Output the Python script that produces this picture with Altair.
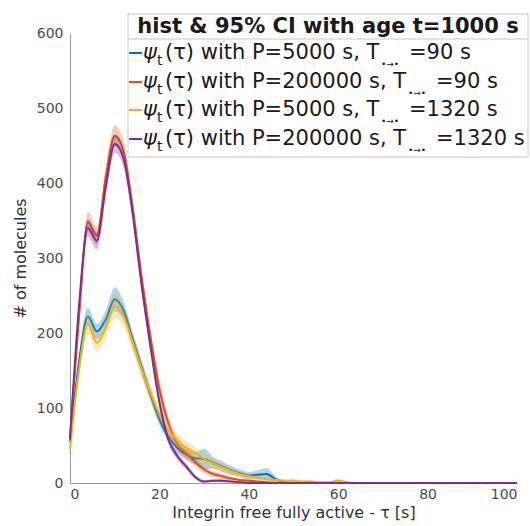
import altair as alt
import pandas as pd

tau = [0, 2, 4, 6, 8, 10, 12, 14, 16, 18, 20, 22, 24, 26, 28, 30, 32, 34, 36, 38, 40,
       42, 44, 46, 48, 50, 52, 54, 56, 58, 60, 62, 64, 70, 80, 90, 100]

blue = [55, 160, 222, 202, 218, 245, 230, 192, 155, 118, 85, 62, 47, 38, 33, 32, 27, 22, 17, 13, 10,
        11, 12, 5, 1, 0, 0, 0, 0, 0, 0, 0, 0, 0, 0, 0, 0]
blue_ci = [8, 10, 12, 10, 12, 16, 12, 10, 10, 9, 8, 7, 7, 7, 8, 14, 8, 7, 6, 5, 5,
           6, 8, 4, 1, 0, 0, 0, 0, 0, 0, 0, 0, 0, 0, 0, 0]

red = [62, 220, 348, 330, 408, 463, 442, 368, 275, 195, 125, 80, 52, 40, 28, 18, 12, 9, 6, 4, 3,
       2, 1, 0, 0, 0, 0, 0, 0, 0, 0, 0, 0, 0, 0, 0, 0]
red_ci = [8, 12, 14, 12, 14, 14, 14, 12, 12, 10, 14, 10, 8, 7, 6, 5, 4, 4, 3, 2, 2,
          1, 1, 0, 0, 0, 0, 0, 0, 0, 0, 0, 0, 0, 0, 0, 0]

yellow = [45, 150, 212, 187, 207, 236, 222, 188, 152, 120, 92, 70, 57, 47, 40, 32, 26, 21, 16, 12, 9,
          7, 5, 4, 3, 3, 2, 2, 1, 1, 3, 1, 0, 0, 0, 0, 0]
yellow_ci = [8, 10, 14, 12, 14, 16, 14, 12, 11, 10, 9, 9, 9, 9, 8, 8, 7, 6, 5, 4, 4,
             3, 3, 3, 2, 3, 2, 2, 1, 1, 3, 1, 0, 0, 0, 0, 0]

purple = [58, 235, 340, 323, 395, 452, 432, 360, 265, 182, 108, 58, 36, 22, 8, 2, 3, 3, 2, 1, 0,
          0, 0, 0, 0, 0, 0, 0, 0, 0, 0, 0, 0, 0, 0, 0, 0]
purple_ci = [6, 10, 12, 12, 12, 12, 12, 10, 10, 8, 8, 6, 5, 4, 3, 2, 2, 2, 1, 1, 0,
             0, 0, 0, 0, 0, 0, 0, 0, 0, 0, 0, 0, 0, 0, 0, 0]

series_colors = ["#0072BD", "#D95319", "#EDB120", "#7E2F8E"]
legend_P = ["5000", "200000", "5000", "200000"]
legend_T = ["90", "90", "1320", "1320"]
legend_title = "hist & 95% CI with age t=1000 s"
x_ticks = [0, 20, 40, 60, 80, 100]
y_ticks = [0, 100, 200, 300, 400, 500, 600]

W, H = 447, 450
FONT = "DejaVu Sans"
TXT = "#1a1a1a"
LF = 21

xs = alt.Scale(domain=[0, 100], nice=False)
ys = alt.Scale(domain=[0, 600], nice=False)
x_enc = alt.X("tau:Q", scale=xs, axis=alt.Axis(values=x_ticks, title="Integrin free fully active - τ [s]"))
y_enc = alt.Y("mean:Q", scale=ys, axis=alt.Axis(values=y_ticks, title="# of molecules"))

layers = []
for vals, ci, col in [(blue, blue_ci, series_colors[0]), (red, red_ci, series_colors[1]),
                      (yellow, yellow_ci, series_colors[2]), (purple, purple_ci, series_colors[3])]:
    df = pd.DataFrame({"tau": tau, "mean": vals,
                       "lo": [max(v - c, 0) for v, c in zip(vals, ci)],
                       "hi": [v + c for v, c in zip(vals, ci)]})
    band = alt.Chart(df).mark_area(color=col, opacity=0.3, interpolate="monotone").encode(
        x=x_enc, y=alt.Y("lo:Q", scale=ys), y2="hi:Q")
    line = alt.Chart(df).mark_line(color=col, strokeWidth=2, interpolate="monotone").encode(
        x=x_enc, y=y_enc)
    layers += [band, line]

one = pd.DataFrame({"a": [0]})
# legend box
LX0, LX1, LY0, LY1 = 58, 458, -19, 124
layers.append(alt.Chart(one).mark_rect(fill="white", stroke="#c8c8c8", strokeWidth=1).encode(
    x=alt.value(LX0), x2=alt.value(LX1), y=alt.value(LY0), y2=alt.value(LY1)))
layers.append(alt.Chart(one).mark_rule(color="#c8c8c8", strokeWidth=1).encode(
    x=alt.value(LX0), x2=alt.value(LX1), y=alt.value(6)))
layers.append(alt.Chart(one).mark_text(font=FONT, fontSize=LF, fontWeight="bold", color=TXT,
                                       align="center", baseline="middle").encode(
    x=alt.value((LX0 + LX1) / 2), y=alt.value(-6), text=alt.value(legend_title)))

row_y = [20, 49, 77, 106]
for i in range(4):
    yy = row_y[i]
    layers.append(alt.Chart(one).mark_rule(color=series_colors[i], strokeWidth=2).encode(
        x=alt.value(LX0 + 1), x2=alt.value(LX0 + 14), y=alt.value(yy)))
    layers.append(alt.Chart(one).mark_text(font=FONT, fontSize=LF, fontStyle="italic", color=TXT,
                                           align="left", baseline="middle").encode(
        x=alt.value(LX0 + 15), y=alt.value(yy), text=alt.value("ψ")))
    layers.append(alt.Chart(one).mark_text(font=FONT, fontSize=14, color=TXT,
                                           align="left", baseline="middle").encode(
        x=alt.value(LX0 + 29), y=alt.value(yy + 8), text=alt.value("t")))
    main = f"(τ) with P={legend_P[i]} s, T"
    layers.append(alt.Chart(one).mark_text(font=FONT, fontSize=LF, color=TXT,
                                           align="left", baseline="middle").encode(
        x=alt.value(LX0 + 37), y=alt.value(yy), text=alt.value(main)))
    off = 253 if legend_P[i] == "5000" else 280
    layers.append(alt.Chart(one).mark_text(font=FONT, fontSize=9, color=TXT,
                                           align="left", baseline="middle").encode(
        x=alt.value(LX0 + off), y=alt.value(yy + 11), text=alt.value("•→•")))
    layers.append(alt.Chart(one).mark_text(font=FONT, fontSize=LF, color=TXT,
                                           align="left", baseline="middle").encode(
        x=alt.value(LX0 + off + 28), y=alt.value(yy), text=alt.value(f"={legend_T[i]} s")))

chart = alt.layer(*layers).properties(
    width=W, height=H,
    autosize=alt.AutoSizeParams(type="none"),
    padding={"left": 70, "top": 33, "right": 13, "bottom": 43},
).configure_view(stroke=None).configure_axis(
    labelFont=FONT, titleFont=FONT, labelFontSize=14, titleFontSize=16,
    labelColor="#4d4d4d", titleColor="#333333", titleFontWeight="normal",
    domainColor="#999999", ticks=False, grid=False,
).configure_axisX(labelPadding=4, titlePadding=3).configure_axisY(labelPadding=7, titlePadding=8)

chart.save("out.html", embed_options={"renderer": "svg", "actions": False})
